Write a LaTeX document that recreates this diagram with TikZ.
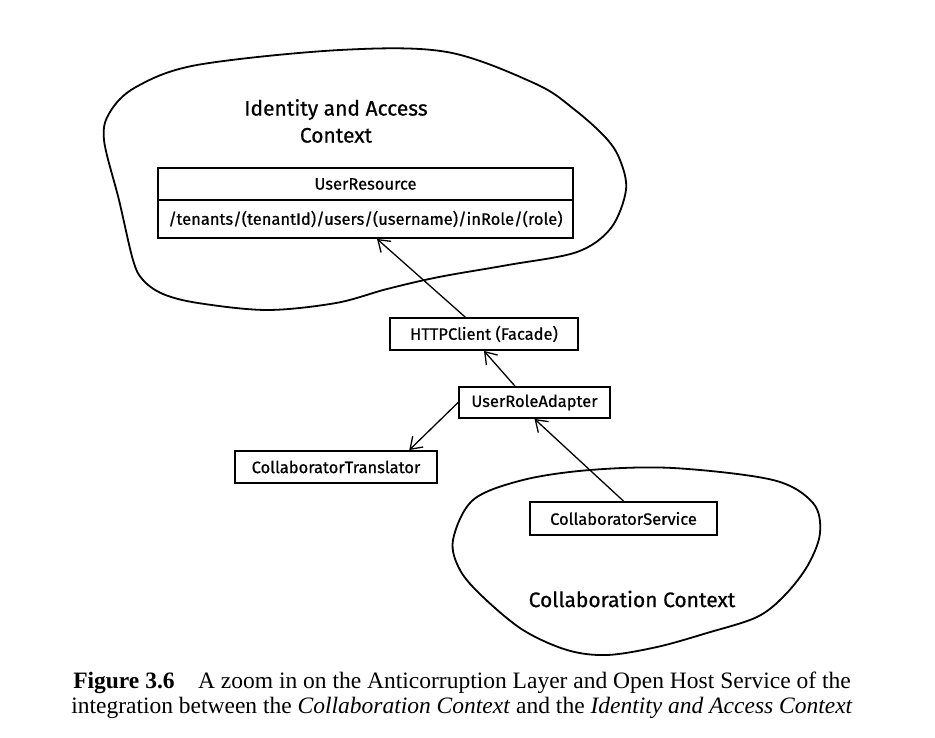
\documentclass[tikz,border=0pt]{standalone}
\usepackage{fontspec}
\setmainfont{Liberation Serif}
\newfontfamily\sketchfont[FakeBold=0.6]{Fira Sans}
\usetikzlibrary{arrows.meta,calc,positioning}

\begin{document}
\begin{tikzpicture}[
      x=1pt,y=-1pt,
      box/.style={rectangle,draw,line width=1.8pt,font=\sketchfont\fontsize{16.5}{18}\selectfont,inner sep=0pt},
      ctx/.style={font=\sketchfont\fontsize{21}{27}\selectfont,align=center},
      blob/.style={line width=1.8pt},
      >={Straight Barb[length=11pt,width=15pt,line width=1.3pt]}
    ]
    \useasboundingbox (0,0) rectangle (935,738);

    % bounded contexts
    \draw[blob] plot[smooth cycle,tension=0.55] coordinates {
      (104,140) (119,200) (133,260) (143,280) (163,294) (198,303) (267,310) (336,303)
      (387,289) (439,277) (508,265) (577,252) (611,228) (626,190) (620,160)
      (606,138) (575,110) (536,84) (447,52) (340,50) (197,65) (136,87) (110,112)};
    \draw[blob] plot[smooth cycle,tension=0.55] coordinates {
      (473,500) (523,480) (590,470) (673,468) (773,480) (813,503) (820,533)
      (808,565) (785,595) (757,617) (707,633) (657,647) (607,655) (567,650)
      (523,630) (483,597) (460,570) (453,540)};

    \node[ctx] (IAC) at (336,121) {Identity and Access\\Context};
    \node[ctx] (CC) at (632,599) {Collaboration Context};

    % classes
    \node[box,minimum width=415pt,minimum height=32pt] (ures) at (365.5,184) {UserResource};
    \node[box,minimum width=415pt,minimum height=38pt,below=-1.8pt of ures] (uurl)
      {/tenants/(tenantId)/users/(username)/inRole/(role)};
    \node[box,minimum width=188pt,minimum height=32pt] (http) at (484,334) {HTTPClient (Facade)};
    \node[box,minimum width=151pt,minimum height=31pt] (adapter) at (534.5,402.5) {UserRoleAdapter};
    \node[box,minimum width=202pt,minimum height=32pt] (translator) at (336,467) {CollaboratorTranslator};
    \node[box,minimum width=187pt,minimum height=33pt] (service) at (623.5,518.5) {CollaboratorService};

    \draw[->,line width=1.3pt] (http.138) -- (uurl.-60);
    \draw[->,line width=1.3pt] (adapter.140) -- (http.south);
    \draw[->,line width=1.3pt] (adapter.west) -- (translator.13);
    \draw[->,line width=1.3pt] (service.north) -- (adapter.south);

    % caption
    \node[font=\fontsize{23.5}{25}\selectfont,align=center] (cap) at (462,695.5)
      {\textbf{Figure 3.6}\quad A zoom in on the Anticorruption Layer and Open Host Service of the\\
       integration between the \textit{Collaboration Context} and the \textit{Identity and Access Context}};
  \end{tikzpicture}
\end{document}
